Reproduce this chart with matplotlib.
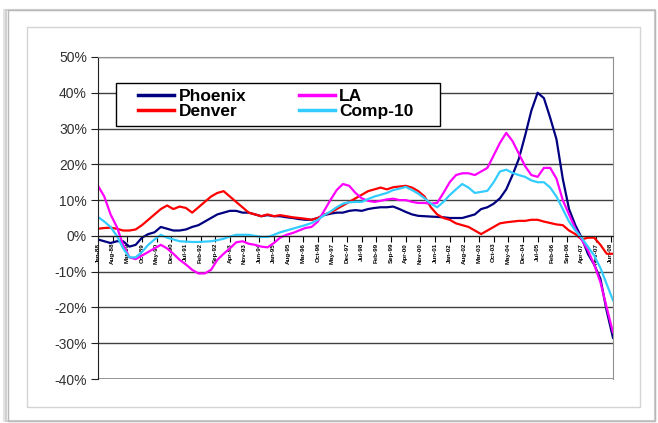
import matplotlib
matplotlib.use("Agg")
import matplotlib.pyplot as plt
import numpy as np
import pandas as pd
from matplotlib.patches import Rectangle

plt.rcParams['font.family'] = ['Liberation Sans', 'DejaVu Sans']

# year-over-year change, quarterly readings from Jan-88
phoenix = [-1.0, -1.5, -2.0, -1.5, -1.5, -3.0, -2.5, -0.5, 0.5, 1.0,
           2.5, 2.0, 1.5, 1.5, 1.8, 2.5, 3.0, 4.0, 5.0, 6.0,
           6.5, 7.0, 7.0, 6.5, 6.5, 6.0, 5.5, 5.8, 5.5, 5.5,
           5.2, 5.0, 4.7, 4.5, 4.5, 5.0, 5.8, 6.2, 6.5, 6.5,
           7.0, 7.2, 7.0, 7.5, 7.8, 8.0, 8.0, 8.2, 7.5, 6.7,
           6.0, 5.6, 5.5, 5.4, 5.3, 5.2, 5.0, 5.0, 5.0, 5.5,
           6.0, 7.5, 8.0, 9.0, 10.5, 13.0, 17.0, 21.5, 28.0, 35.0,
           40.0, 38.5, 33.0, 27.0, 16.0, 7.5, 3.0, -0.5, -5.0, -8.0,
           -12.0, -21.0, -28.5]
denver = [2.0, 2.2, 2.3, 2.0, 1.5, 1.5, 1.8, 3.0, 4.5, 6.0,
          7.5, 8.5, 7.5, 8.2, 7.8, 6.5, 8.0, 9.5, 11.0, 12.0,
          12.5, 11.0, 9.5, 8.0, 6.5, 6.0, 5.5, 6.0, 5.5, 5.8,
          5.5, 5.2, 5.0, 4.8, 4.5, 5.0, 6.0, 6.5, 7.5, 8.5,
          9.5, 10.5, 11.5, 12.5, 13.0, 13.5, 13.0, 13.6, 13.8, 14.0,
          13.5, 12.5, 11.0, 8.0, 6.0, 5.0, 4.5, 3.5, 3.0, 2.5,
          1.5, 0.5, 1.5, 2.5, 3.5, 3.8, 4.0, 4.2, 4.2, 4.5,
          4.5, 4.0, 3.6, 3.2, 3.0, 1.5, 0.5, -1.0, -0.5, -0.5,
          -2.5, -5.0, -5.0]
la = [14.0, 11.0, 6.0, 2.5, -2.5, -6.0, -6.5, -5.5, -4.5, -3.5,
      -2.5, -3.5, -5.0, -6.7, -8.0, -9.5, -10.5, -10.5, -9.5, -6.7,
      -5.0, -3.5, -1.8, -1.5, -2.2, -2.5, -3.0, -3.2, -2.0, -0.5,
      0.3, 0.8, 1.5, 2.2, 2.5, 4.0, 7.0, 10.0, 12.8, 14.5,
      14.0, 12.0, 10.5, 9.8, 9.5, 9.8, 10.2, 10.4, 10.0, 10.0,
      9.5, 9.2, 9.2, 9.0, 9.2, 12.0, 15.0, 17.0, 17.5, 17.5,
      17.0, 18.0, 19.0, 22.5, 26.0, 28.8, 26.5, 23.0, 19.5, 17.0,
      16.5, 19.0, 19.0, 16.0, 10.0, 6.0, 2.0, -1.0, -4.0, -8.0,
      -13.0, -20.0, -27.0]
comp10 = [5.3, 4.0, 2.5, 0.0, -3.5, -6.0, -6.0, -4.5, -2.5, -1.0,
          0.3, -0.5, -1.0, -1.5, -1.6, -1.7, -1.7, -1.6, -1.5, -1.2,
          -0.8, -0.2, 0.3, 0.3, 0.3, 0.0, -0.3, -0.3, 0.3, 1.0,
          1.5, 2.0, 2.5, 3.0, 3.6, 4.5, 5.8, 6.8, 8.0, 9.0,
          9.4, 9.5, 9.5, 10.3, 11.0, 11.5, 12.0, 12.8, 13.2, 13.7,
          12.8, 11.8, 10.5, 9.0, 8.0, 9.5, 11.4, 13.0, 14.5, 13.5,
          12.0, 12.3, 12.6, 15.0, 18.0, 18.5, 17.6, 17.0, 16.5, 15.5,
          15.0, 15.0, 13.5, 11.0, 7.5, 4.0, 1.5, -0.5, -3.0, -5.5,
          -9.0, -13.5, -18.0]

months = np.arange(0, 3 * len(phoenix), 3)
tick_months = np.arange(0, months[-1], 7)
tick_labels = pd.date_range('1988-01-01', periods=len(tick_months), freq='7MS').strftime('%b-%y')

fig = plt.figure(figsize=(6.58, 4.23), dpi=100)
W, H = 658, 423

# outer frame with a soft shadow, and the chart area border inside it
for off, col in [(4, '#e4e4e4'), (2, '#d0d0d0')]:
    fig.patches.append(Rectangle(((8 - off) / W, (423 - 421) / H), (647 + off) / W, 411 / H,
                                 transform=fig.transFigure, fill=False, edgecolor=col, lw=1.5))
fig.patches.append(Rectangle((8 / W, 2 / H), 647 / W, 411 / H, transform=fig.transFigure,
                             fill=False, edgecolor='#b8b8b8', lw=1))
fig.patches.append(Rectangle((27 / W, (423 - 407) / H), 613 / W, 380 / H, transform=fig.transFigure,
                             fill=False, edgecolor='#d4d4d4', lw=1))

ax = fig.add_axes([98 / W, (423 - 379) / H, 515 / W, 322 / H])
# x axis crosses at 0%; set before the tick labels so they are not reset
ax.spines['bottom'].set_position(('data', 0))

ax.plot(months, phoenix, color='#000080', lw=1.6, label='Phoenix')
ax.plot(months, denver, color='#ff0000', lw=1.6, label='Denver')
ax.plot(months, la, color='#ff00ff', lw=1.6, label='LA')
ax.plot(months, comp10, color='#33ccff', lw=1.6, label='Comp-10')

ax.set_xlim(0, months[-1])
ax.set_ylim(-40, 50)
ax.set_yticks(np.arange(-40, 51, 10))
ax.set_yticklabels([f'{v}%' for v in range(-40, 51, 10)], fontsize=10)
ax.yaxis.grid(True, color='#404040', lw=1)
ax.set_axisbelow(True)

ax.set_xticks(tick_months)
ax.set_xticklabels(tick_labels)
ax.tick_params(axis='x', length=4, width=0.8, pad=1, direction='out',
               labelrotation=90, labelsize=4.5)
for t in ax.get_xticklabels():
    t.set_fontweight('bold')
ax.spines['bottom'].set_color('#202020')
ax.spines['left'].set_color('#202020')
ax.spines['top'].set_color('#909090')
ax.spines['right'].set_color('#909090')
ax.axhline(-40, color='#909090', lw=2)
ax.tick_params(axis='y', length=5, width=0.8, pad=3, colors='#202020', labelcolor='#303030')

# legend box drawn separately so the entries can sit freely inside it
ax.add_patch(Rectangle((0.035, 0.786), 0.629, 0.1335, transform=ax.transAxes,
                       facecolor='white', edgecolor='black', lw=1, zorder=4.5))
leg = ax.legend(ncol=2, loc='upper left', bbox_to_anchor=(0.0777, 0.902),
                prop={'weight': 'bold', 'size': 12.5}, handlelength=2.1,
                handletextpad=0.25, labelspacing=0.0, borderpad=0, borderaxespad=0,
                columnspacing=3.0, frameon=False)
leg.set_zorder(5)
for line in leg.get_lines():
    line.set_linewidth(2.5)

fig.savefig('out.png', dpi=100)
